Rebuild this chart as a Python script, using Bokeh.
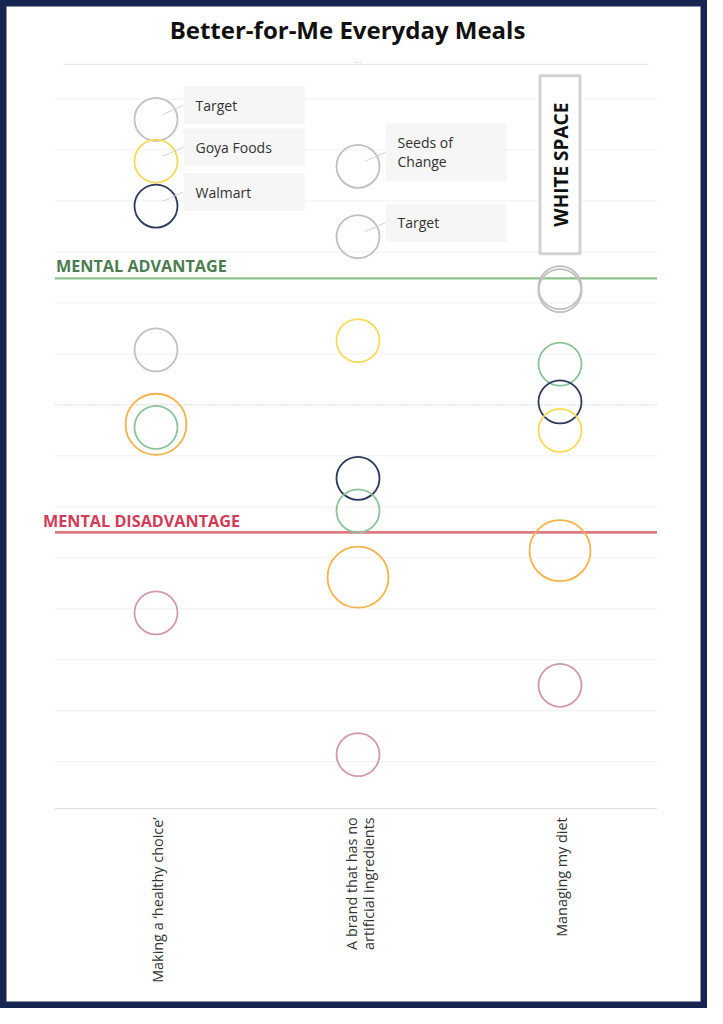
import math
from bokeh.plotting import figure
from bokeh.models import Range1d
from bokeh.core.properties import value
from bokeh.embed import file_html
from bokeh.resources import INLINE

# ---------------- data ----------------
title_text = "Better-for-Me Everyday Meals"

categories = ["Making a ‘healthy choice’",
              "A brand that has no artificial ingredients",
              "Managing my diet"]
category_tick_labels = ["Making a ‘healthy choice’",
                        "A brand that has no\nartificial ingredients",
                        "Managing my diet"]

point_category = [0, 0, 0, 0, 0, 0, 0,
                  1, 1, 1, 1, 1, 1, 1,
                  2, 2, 2, 2, 2, 2, 2]
point_series = ["grey", "yellow", "navy", "grey", "orange", "green", "mauve",
                "grey", "grey", "yellow", "navy", "green", "orange", "mauve",
                "grey", "grey", "green", "navy", "yellow", "orange", "mauve"]
point_score = [28.0, 23.9, 19.5, 5.4, -1.9, -2.2, -20.4,
               23.4, 16.5, 6.3, -7.2, -10.4, -16.9, -34.3,
               11.5, 11.2, 4.0, 0.3, -2.5, -14.3, -27.5]
point_label = ["Target", "Goya Foods", "Walmart", "", "", "", "",
               "Seeds of\nChange", "Target", "", "", "", "", "",
               "", "", "", "", "", "", ""]

mental_advantage = 12.4
mental_disadvantage = -12.5
grid_values = [30, 25, 20, 15, 10, 5, -5, -10, -15, -20, -25, -30, -35]
zero_value = 0
top_value = 33.4
axis_value = -39.6

series_colors = {"grey": "#c4bfbf", "yellow": "#f7db57", "navy": "#2d3a5d",
                 "green": "#8dc29b", "orange": "#f5b44b", "mauve": "#d29aa9"}
series_sizes = {"grey": 43, "yellow": 43, "navy": 43, "green": 43,
                "orange": 61, "mauve": 43}

# ---------------- figure ----------------
W, H = 707, 1008
X0, X1 = -0.2698, 3.2302
Y0, Y1 = -59.2, 39.66
PXX = (X1 - X0) / W
PXY = (Y1 - Y0) / H
FONT = value("Open Sans")

p = figure(width=W, height=H, x_range=Range1d(X0, X1), y_range=Range1d(Y0, Y1),
           output_backend="svg", toolbar_location=None,
           x_axis_location=None, y_axis_location=None, min_border=0, title=None)
p.grid.visible = False
p.background_fill_color = "white"
p.border_fill_color = "white"
p.outline_line_color = "#172650"
p.outline_line_width = 12

GX0, GX1 = 0.0, 2.98

# gridlines
p.segment(x0=[GX0] * len(grid_values), x1=[GX1] * len(grid_values),
          y0=grid_values, y1=grid_values, line_color="#f1f1f1", line_width=1)
p.segment(x0=[GX0], x1=[GX1], y0=[zero_value], y1=[zero_value],
          line_color="#d6d6d6", line_width=1, line_dash="2 1")
p.segment(x0=[0.04], x1=[2.94], y0=[top_value], y1=[top_value],
          line_color="#e2e2e2", line_width=1)
p.segment(x0=[GX0], x1=[GX1], y0=[axis_value], y1=[axis_value],
          line_color="#dcdcdc", line_width=1)
p.text(x=[1.5], y=[top_value + 2 * PXY], text=["···"], text_font=FONT,
       text_font_size="9px", text_color="#bbbbbb", text_align="center",
       text_baseline="middle")

# threshold lines
p.segment(x0=[GX0], x1=[GX1], y0=[mental_advantage], y1=[mental_advantage],
          line_color="#8cc38f", line_width=2.2)
p.segment(x0=[GX0], x1=[GX1], y0=[mental_disadvantage], y1=[mental_disadvantage],
          line_color="#e07a80", line_width=2.8)
p.text(x=[GX0 + 1 * PXX], y=[mental_advantage + 12.5 * PXY], text=["MENTAL ADVANTAGE"],
       text_font=FONT, text_font_size="16.2px", text_font_style="bold",
       text_color="#4b7d50", text_align="left", text_baseline="middle")
p.text(x=[GX0 - 12 * PXX], y=[mental_disadvantage + 11.5 * PXY], text=["MENTAL DISADVANTAGE"],
       text_font=FONT, text_font_size="16.2px", text_font_style="bold",
       text_color="#d43b57", text_align="left", text_baseline="middle")

# white space box
ws_x = 2.5
ws_y = 23.56
p.rect(x=[ws_x], y=[ws_y], width=40, height=178, width_units="screen",
       height_units="screen", fill_color="white", line_color="#d2d2d2", line_width=3)
p.text(x=[ws_x], y=[ws_y], text=["WHITE SPACE"], angle=math.pi / 2, x_offset=1,
       text_font=FONT, text_font_size="19px", text_font_style="bold",
       text_color="#111111", text_align="center", text_baseline="middle")

# circles
cx = [c + 0.5 for c in point_category]
p.scatter(x=cx, y=point_score, marker="circle",
          size=[series_sizes[s] for s in point_series],
          fill_color=None, line_color=[series_colors[s] for s in point_series],
          line_width=1.8)

# callouts
idx = [i for i, t in enumerate(point_label) if t]
box_x = [cx[i] + 88.3 * PXX for i in idx]
box_y = [point_score[i] + 14 * PXY for i in idx]
box_h = [58 if "\n" in point_label[i] else 38 for i in idx]
p.rect(x=box_x, y=box_y, width=121, height=box_h, width_units="screen",
       height_units="screen", fill_color="#f5f6f5", line_color=None)
p.segment(x0=[cx[i] + 7 * PXX for i in idx], y0=[point_score[i] + 5 * PXY for i in idx],
          x1=[cx[i] + 27.5 * PXX for i in idx], y1=[point_score[i] + 14 * PXY for i in idx],
          line_color="#d3d3d3", line_width=1)
p.text(x=[cx[i] + 39.5 * PXX for i in idx], y=box_y, text=[point_label[i] for i in idx],
       text_font=FONT, text_font_size="14px", text_color="#333333",
       text_align="left", text_baseline="middle", text_line_height=1.0)

# category labels (x axis)
p.text(x=[i + 0.5 for i in range(len(categories))],
       y=[axis_value - 0.85] * len(categories), text=category_tick_labels,
       angle=math.pi / 2, x_offset=2, text_font=FONT, text_font_size="14.4px",
       text_color="#333333", text_align="right", text_baseline="middle",
       text_line_height=0.9)

# title
p.text(x=[X0 + 347 * PXX], y=[Y1 - 28.5 * PXY], text=[title_text], text_font=FONT,
       text_font_size="24px", text_font_style="bold", text_color="#111111",
       text_align="center", text_baseline="middle")

open("out.html", "w").write(file_html(p, INLINE))
